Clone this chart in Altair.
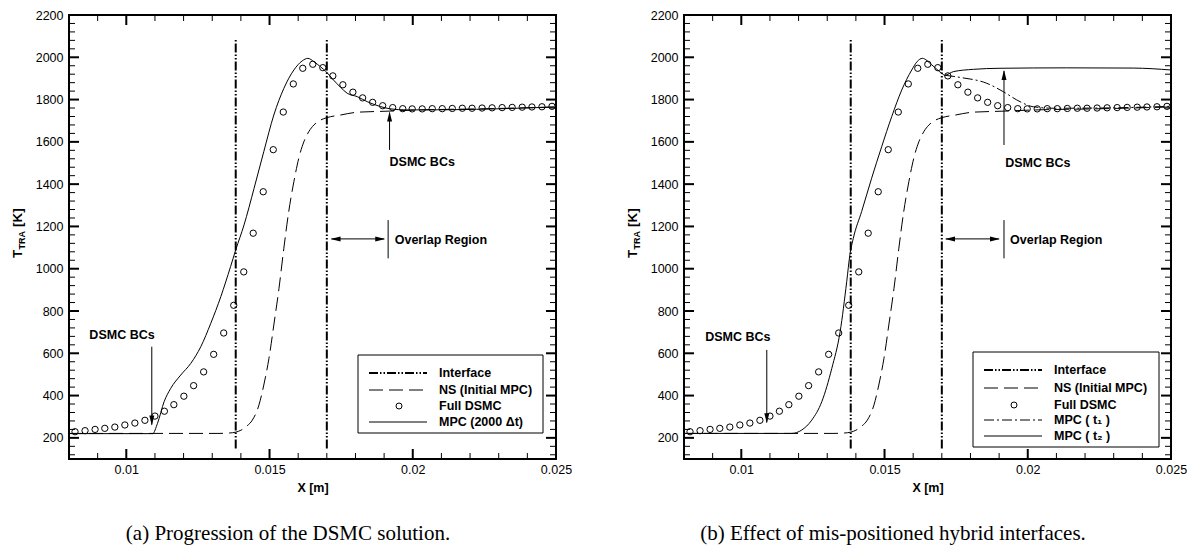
import altair as alt
import pandas as pd

# ---------------- data ----------------
dsmc_x = [0.00821, 0.00856, 0.00891, 0.00925, 0.00960, 0.00995, 0.01030, 0.01065, 0.01100,
          0.01133, 0.01166, 0.01201, 0.01235, 0.01270, 0.01305, 0.01340, 0.01375, 0.01410,
          0.01443, 0.01478, 0.01513, 0.01548, 0.01583, 0.01616, 0.01651, 0.01686, 0.01721,
          0.01756, 0.01791, 0.01825, 0.01860, 0.01895, 0.01930, 0.01965, 0.01998, 0.02033,
          0.02068, 0.02103, 0.02138, 0.02173, 0.02207, 0.02242, 0.02277, 0.02312, 0.02347,
          0.02382, 0.02416, 0.02451, 0.02486]
dsmc_T = [229, 234, 240, 245, 251, 261, 270, 283, 303, 326, 357, 397, 447, 512, 595, 696, 827,
          985, 1168, 1364, 1563, 1741, 1874, 1948, 1967, 1951, 1912, 1870, 1835, 1808, 1787,
          1771, 1762, 1757, 1756, 1756, 1757, 1757, 1758, 1759, 1759, 1760, 1761, 1762, 1763,
          1764, 1765, 1766, 1768]

ns_x = [0.008, 0.0132, 0.0136, 0.01382, 0.0140, 0.0142, 0.0144, 0.01463, 0.0148, 0.01498,
        0.01515, 0.01533, 0.0155, 0.01567, 0.01585, 0.01602, 0.0162, 0.01637, 0.01655, 0.01678,
        0.01699, 0.01748, 0.01806, 0.0191, 0.02026, 0.02235, 0.025]
ns_T = [221, 221, 223, 227, 236, 255, 284, 355, 450, 576, 734, 907, 1097, 1270, 1412, 1522,
        1601, 1648, 1680, 1703, 1714, 1727, 1740, 1745, 1751, 1756, 1765]

mpcA_x = [0.008, 0.01092, 0.01109, 0.01132, 0.01155, 0.01190, 0.01225, 0.01260, 0.01295,
          0.01330, 0.01364, 0.01382, 0.01411, 0.01446, 0.01480, 0.01515, 0.01550, 0.01585,
          0.01614, 0.01634, 0.01655, 0.01678, 0.01699, 0.01723, 0.01748, 0.01771, 0.01806,
          0.01841, 0.01887, 0.01922, 0.01980, 0.02131, 0.025]
mpcA_T = [220, 220, 269, 371, 434, 497, 552, 631, 742, 868, 1010, 1089, 1207, 1380, 1554, 1727,
          1853, 1940, 1983, 1995, 1979, 1955, 1930, 1893, 1858, 1830, 1814, 1790, 1767, 1756,
          1751, 1752, 1765]

t2_x = [0.008, 0.01176, 0.01211, 0.01246, 0.01281, 0.01316, 0.01345, 0.01368, 0.01379, 0.01391,
        0.01420, 0.01455, 0.01490, 0.01525, 0.01560, 0.01595, 0.01614, 0.01632, 0.01665, 0.01700,
        0.01711, 0.01740, 0.01810, 0.01903, 0.02136, 0.02368, 0.025]
t2_T = [221, 221, 237, 284, 371, 529, 702, 939, 1065, 1144, 1270, 1428, 1577, 1719, 1845, 1940,
        1980, 1995, 1964, 1924, 1915, 1932, 1943, 1948, 1950, 1949, 1940]

t1_x = [0.01711, 0.01763, 0.01857, 0.01915, 0.01973, 0.02019, 0.02089, 0.02252, 0.025]
t1_T = [1915, 1905, 1877, 1837, 1790, 1766, 1759, 1760, 1768]

interface_x = [0.01382, 0.01700]
interface_lo = [150, 150]
interface_hi = [2090, 2090]

x_major = [0.01, 0.015, 0.02, 0.025]
x_minor = [0.009, 0.011, 0.012, 0.013, 0.014, 0.016, 0.017, 0.018, 0.019,
           0.021, 0.022, 0.023, 0.024]
y_major = [200, 400, 600, 800, 1000, 1200, 1400, 1600, 1800, 2000, 2200]
y_minor = [120, 160, 240, 280, 320, 360, 440, 480, 520, 560, 640, 680, 720, 760, 840, 880,
           920, 960, 1040, 1080, 1120, 1160, 1240, 1280, 1320, 1360, 1440, 1480, 1520, 1560,
           1640, 1680, 1720, 1760, 1840, 1880, 1920, 1960, 2040, 2080, 2120, 2160]

legend_a = ["Interface", "NS (Initial MPC)", "Full DSMC", "MPC (2000 \u0394t)"]
legend_b = ["Interface", "NS (Initial MPC)", "Full DSMC", "MPC ( t\u2081 )", "MPC ( t\u2082 )"]
captions = ["(a) Progression of the DSMC solution.",
            "(b) Effect of mis-positioned hybrid interfaces."]

# ---------------- styling ----------------
W, H = 487, 444
X0, X1, Y0, Y1 = 0.008, 0.025, 100, 2200
FONT = "Liberation Sans"
SERIF = "Liberation Serif"
FS = 12.5
DASH_IF = [9, 2, 1.5, 2, 1.5, 2]
DASH_NS = [14, 6]
DASH_T1 = [10, 3, 2, 3]

xs = alt.Scale(domain=[X0, X1], nice=False, zero=False)
ys = alt.Scale(domain=[Y0, Y1], nice=False, zero=False)

x_axis = alt.Axis(values=x_major, format="~g", title="X [m]", titleFont=FONT,
                  titleFontSize=FS, titleFontWeight="bold", titleColor="black",
                  titlePadding=6, labelFont=FONT, labelFontSize=FS, labelColor="black",
                  labelPadding=4, labelFlush=False, labelOverlap=False, ticks=False,
                  domain=False, grid=False)
y_axis = alt.Axis(values=y_major, format="d", title=None, labelFont=FONT, labelFontSize=FS,
                  labelColor="black", labelPadding=6, labelOverlap=False, ticks=False,
                  domain=False, grid=False)


def X(f):
    return alt.X(f, type="quantitative", scale=xs, axis=x_axis)


def Y(f):
    return alt.Y(f, type="quantitative", scale=ys, axis=y_axis)


one = pd.DataFrame({"a": [0]})

HEADS = {
    "down": "M0,0L-0.5,-2L0.5,-2Z",
    "up": "M0,0L-0.5,2L0.5,2Z",
    "left": "M0,0L2,-0.5L2,0.5Z",
    "right": "M0,0L-2,-0.5L-2,0.5Z",
}

# tick lengths converted to data units (pixels -> scale units)
PX_X = (X1 - X0) / W
PX_Y = (Y1 - Y0) / H


def tick_layers():
    out = []
    for vals, L, sw in [(x_major, 10, 2.0), (x_minor, 6, 1.0)]:
        rows = []
        for v in vals:
            rows.append((v, Y0, v, Y0 + L * PX_Y))
            rows.append((v, Y1, v, Y1 - L * PX_Y))
        d = pd.DataFrame(rows, columns=["x", "y", "x2", "y2"])
        out.append(alt.Chart(d).mark_rule(color="black", strokeWidth=sw).encode(
            x=X("x"), y=Y("y"), x2=alt.X2("x2"), y2=alt.Y2("y2")))
    for vals, L, sw in [(y_major, 10, 2.0), (y_minor, 6, 1.0)]:
        rows = []
        for v in vals:
            rows.append((X0, v, X0 + L * PX_X, v))
            rows.append((X1, v, X1 - L * PX_X, v))
        d = pd.DataFrame(rows, columns=["x", "y", "x2", "y2"])
        out.append(alt.Chart(d).mark_rule(color="black", strokeWidth=sw).encode(
            x=X("x"), y=Y("y"), x2=alt.X2("x2"), y2=alt.Y2("y2")))
    return out


def line(xv, tv, dash=None, width=1):
    d = pd.DataFrame({"x": xv, "T": tv})
    kw = dict(color="black", strokeWidth=width, interpolate="monotone")
    if dash is not None:
        kw["strokeDash"] = dash
    return alt.Chart(d).mark_line(**kw).encode(x=X("x"), y=Y("T"))


def interface_layer():
    d = pd.DataFrame({"x": interface_x, "lo": interface_lo, "hi": interface_hi})
    return alt.Chart(d).mark_rule(color="black", strokeWidth=2, strokeDash=DASH_IF).encode(
        x=X("x"), y=Y("lo"), y2=alt.Y2("hi"))


def dsmc_layer():
    d = pd.DataFrame({"x": dsmc_x, "T": dsmc_T})
    return alt.Chart(d).mark_point(shape="circle", filled=False, size=40, color="black",
                                   strokeWidth=1, opacity=1).encode(x=X("x"), y=Y("T"))


def annotation_layers(ann):
    out = []
    stems = pd.DataFrame(ann["stems"], columns=["x", "y", "x2", "y2"])
    out.append(alt.Chart(stems).mark_rule(color="black", strokeWidth=1).encode(
        x=X("x"), y=Y("y"), x2=alt.X2("x2"), y2=alt.Y2("y2")))
    for direction, pts in ann["heads"].items():
        d = pd.DataFrame(pts, columns=["x", "y"])
        out.append(alt.Chart(d).mark_point(shape=HEADS[direction], filled=True, size=100,
                                           color="black", opacity=1, strokeWidth=0).encode(
            x=X("x"), y=Y("y")))
    for align, rows in ann["texts"].items():
        d = pd.DataFrame(rows, columns=["x", "y", "label"])
        out.append(alt.Chart(d).mark_text(font=FONT, fontSize=FS, fontWeight="bold",
                                          color="black", align=align,
                                          baseline="middle").encode(
            x=X("x"), y=Y("y"), text="label:N"))
    return out


def legend_layers(labels, styles, box, rows_y):
    out = [alt.Chart(one).mark_rect(fill="white", stroke="black", strokeWidth=1).encode(
        x=alt.value(box[0]), x2=alt.value(box[1]), y=alt.value(box[2]), y2=alt.value(box[3]))]
    for lab, sty, ry in zip(labels, styles, rows_y):
        if sty == "circle":
            out.append(alt.Chart(one).mark_point(shape="circle", filled=False, size=36,
                                                 color="black", strokeWidth=1,
                                                 opacity=1).encode(
                x=alt.value(box[0] + 41), y=alt.value(ry)))
        else:
            dash, sw = sty
            kw = dict(color="black", strokeWidth=sw)
            if dash is not None:
                kw["strokeDash"] = dash
            out.append(alt.Chart(one).mark_rule(**kw).encode(
                x=alt.value(box[0] + 11), x2=alt.value(box[0] + 69), y=alt.value(ry)))
        out.append(alt.Chart(one).mark_text(font=FONT, fontSize=FS, fontWeight="bold",
                                            color="black", align="left",
                                            baseline="middle").encode(
            x=alt.value(box[0] + 81), y=alt.value(ry), text=alt.value(lab)))
    return out


def ytitle_layers():
    base = dict(font=FONT, fontWeight="bold", color="black", angle=270, align="left",
                baseline="alphabetic")
    return [
        alt.Chart(one).mark_text(fontSize=13.5, **base).encode(
            x=alt.value(-47), y=alt.value(243), text=alt.value("T")),
        alt.Chart(one).mark_text(fontSize=9, **base).encode(
            x=alt.value(-44), y=alt.value(234.5), text=alt.value("TRA")),
        alt.Chart(one).mark_text(fontSize=13.5, **base).encode(
            x=alt.value(-47), y=alt.value(212), text=alt.value("[K]")),
    ]


def caption_layer(text, cx):
    return alt.Chart(one).mark_text(font=SERIF, fontSize=21, color="black", align="center",
                                    baseline="middle").encode(
        x=alt.value(cx), y=alt.value(519), text=alt.value(text))


# ---------------- panel (a) ----------------
ann_a = {
    "stems": [(0.01089, 631, 0.01089, 262), (0.01919, 1562, 0.01919, 1738),
              (0.01716, 1141, 0.01900, 1141), (0.01914, 1049, 0.01914, 1230)],
    "heads": {"down": [(0.01089, 258)], "up": [(0.01919, 1743)],
              "left": [(0.01713, 1141)], "right": [(0.01904, 1141)]},
    "texts": {"center": [(0.00985, 686, "DSMC BCs"), (0.02033, 1506, "DSMC BCs")],
              "left": [(0.01937, 1136, "Overlap Region")]},
}
styles_a = [(DASH_IF, 2), (DASH_NS, 1), "circle", (None, 1)]

panel_a = alt.layer(
    line(ns_x, ns_T, DASH_NS),
    line(mpcA_x, mpcA_T),
    dsmc_layer(),
    interface_layer(),
    *annotation_layers(ann_a),
    *legend_layers(legend_a, styles_a, (289, 474, 340, 418), [358, 375, 391, 407]),
    *ytitle_layers(),
    caption_layer(captions[0], 219),
    *tick_layers(),
).properties(width=W, height=H)

# ---------------- panel (b) ----------------
ann_b = {
    "stems": [(0.01089, 616, 0.01089, 273), (0.01917, 1585, 0.01917, 1935),
              (0.01714, 1141, 0.01899, 1141), (0.01917, 1049, 0.01917, 1230)],
    "heads": {"down": [(0.01089, 269)], "up": [(0.01917, 1940)],
              "left": [(0.01711, 1141)], "right": [(0.01903, 1141)]},
    "texts": {"center": [(0.00988, 678, "DSMC BCs"), (0.02035, 1499, "DSMC BCs")],
              "left": [(0.01938, 1136, "Overlap Region")]},
}
styles_b = [(DASH_IF, 2), (DASH_NS, 1), "circle", (DASH_T1, 1), (None, 1)]

panel_b = alt.layer(
    line(ns_x, ns_T, DASH_NS),
    line(t2_x, t2_T),
    line(t1_x, t1_T, DASH_T1),
    dsmc_layer(),
    interface_layer(),
    *annotation_layers(ann_b),
    *legend_layers(legend_b, styles_b, (289, 475, 337, 432), [355, 373, 390, 405, 421]),
    *ytitle_layers(),
    caption_layer(captions[1], 209),
    *tick_layers(),
).properties(width=W, height=H)

chart = alt.hconcat(panel_a, panel_b, spacing=128, bounds="flush").properties(
    padding={"left": 10, "top": 8, "right": 0, "bottom": 0},
    background="white",
).configure_view(stroke="black", strokeWidth=2)

chart.save("out.html", embed_options={"renderer": "svg", "actions": False})
